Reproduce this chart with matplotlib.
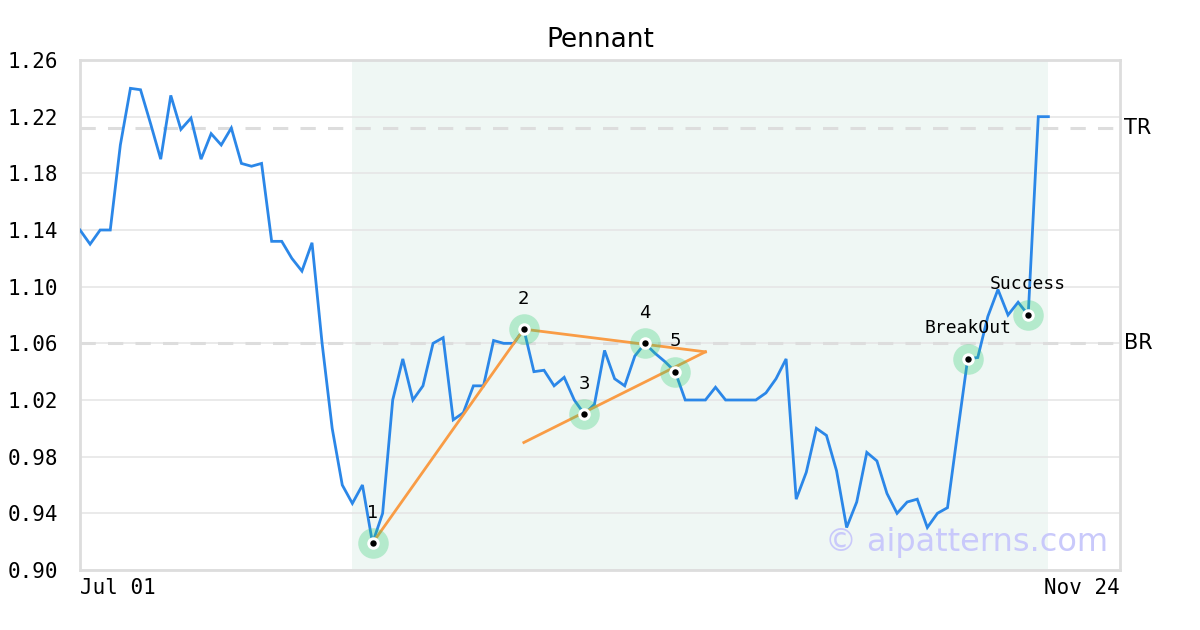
import matplotlib
matplotlib.use("Agg")
import matplotlib.pyplot as plt

# ---- data ----
x_labels = ["Jul 01", "Nov 24"]
prices = [1.14, 1.13, 1.14, 1.14, 1.20, 1.24, 1.239, 1.215, 1.19, 1.235,
          1.211, 1.219, 1.19, 1.208, 1.20, 1.212, 1.187, 1.185, 1.187, 1.132,
          1.132, 1.12, 1.111, 1.131,
          1.06, 1.00, 0.96, 0.947, 0.96, 0.919, 0.94, 1.02, 1.049, 1.02,
          1.03, 1.06, 1.064, 1.006, 1.011, 1.03, 1.03, 1.062, 1.06, 1.06,
          1.07, 1.04, 1.041, 1.03, 1.036, 1.02, 1.01,
          1.017, 1.055, 1.035, 1.03, 1.051, 1.06, 1.053, 1.047, 1.04, 1.02,
          1.02, 1.02, 1.029, 1.02, 1.02, 1.02, 1.02, 1.025, 1.035, 1.049,
          0.95, 0.969, 1.00, 0.995, 0.97, 0.93, 0.948, 0.983, 0.977, 0.954,
          0.94, 0.948, 0.95, 0.93, 0.94, 0.944, 0.997, 1.049, 1.05, 1.079,
          1.098, 1.08, 1.089, 1.08, 1.22, 1.22]
pivot_idx = [29, 44, 50, 56, 59]
pivot_labels = ["1", "2", "3", "4", "5"]
event_idx = [88, 94]
event_labels = ["BreakOut", "Success"]
top_resistance = 1.212
bottom_resistance = 1.06
pattern_start = 27
pattern_end = 96
apex_idx = 62
apex_val = 1.054
lower_start_idx = 44
lower_start_val = 0.990
x_max = 103.1
y_ticks = [0.90, 0.94, 0.98, 1.02, 1.06, 1.10, 1.14, 1.18, 1.22, 1.26]

x = list(range(len(prices)))

fig = plt.figure(figsize=(12, 6.3), dpi=100)
ax = fig.add_axes([80 / 1200, 60 / 630, 1040 / 1200, 510 / 630])

ax.set_xlim(0, x_max)
ax.set_ylim(0.90, 1.26)

ax.axvspan(pattern_start, pattern_end, color="#eff7f4", zorder=0, lw=0)

ax.set_yticks(y_ticks)
ax.set_yticklabels([f"{v:.2f}" for v in y_ticks], family="DejaVu Sans Mono", fontsize=15)
ax.yaxis.grid(True, color="#e6e6e6", lw=1.2, zorder=1)
ax.set_axisbelow(True)
ax.tick_params(axis="both", length=0)
ax.tick_params(axis="y", pad=16)

ax.set_xticks([0, x_max])
xt = ax.set_xticklabels(x_labels, family="DejaVu Sans Mono", fontsize=15)
xt[0].set_ha("left")
xt[1].set_ha("right")
ax.tick_params(axis="x", pad=6)

for s in ax.spines.values():
    s.set_color("#dddddd")
    s.set_linewidth(2)

for lvl, name in [(top_resistance, "TR"), (bottom_resistance, "BR")]:
    ax.axhline(lvl, color="#dddddd", lw=2.2, ls=(0, (5, 4)), zorder=2)
    ax.text(1.004, lvl, name, transform=ax.get_yaxis_transform(), ha="left",
            va="center", fontsize=15, family="DejaVu Sans", color="black")

ax.plot(x, prices, color="#2b87e8", lw=2.0, zorder=3, solid_joinstyle="miter")

orange = "#f99c45"
ax.plot([pivot_idx[0], pivot_idx[1]], [prices[pivot_idx[0]], prices[pivot_idx[1]]],
        color=orange, lw=2.0, zorder=4)
ax.plot([pivot_idx[1], apex_idx], [prices[pivot_idx[1]], apex_val],
        color=orange, lw=2.0, zorder=4)
ax.plot([lower_start_idx, apex_idx], [lower_start_val, apex_val],
        color=orange, lw=2.0, zorder=4)

mark_idx = pivot_idx + event_idx
mark_vals = [prices[i] for i in mark_idx]
ax.scatter(mark_idx, mark_vals, s=22 ** 2, color="#2ecc71", alpha=0.3, lw=0, zorder=5)
ax.scatter(mark_idx, mark_vals, s=9 ** 2, color="white", lw=0, zorder=6)
ax.scatter(mark_idx, mark_vals, s=4.6 ** 2, color="black", lw=0, zorder=7)

for i, lab in zip(pivot_idx, pivot_labels):
    ax.annotate(lab, (i, prices[i]), xytext=(0, 22), textcoords="offset points",
                ha="center", va="center", fontsize=13, family="DejaVu Sans", zorder=8)
for i, lab in zip(event_idx, event_labels):
    ax.annotate(lab, (i, prices[i]), xytext=(0, 22), textcoords="offset points",
                ha="center", va="center", fontsize=13, family="DejaVu Sans Mono", zorder=8)

ax.text(0.9885, 0.054, "© aipatterns.com", transform=ax.transAxes,
        ha="right", va="center", fontsize=23, family="DejaVu Sans", color="#c9c9fb", zorder=9)

fig.text(0.5, 1 - 40 / 630, "Pennant", ha="center", va="center",
         fontsize=19, family="DejaVu Sans")

fig.savefig("out.png", dpi=100)
